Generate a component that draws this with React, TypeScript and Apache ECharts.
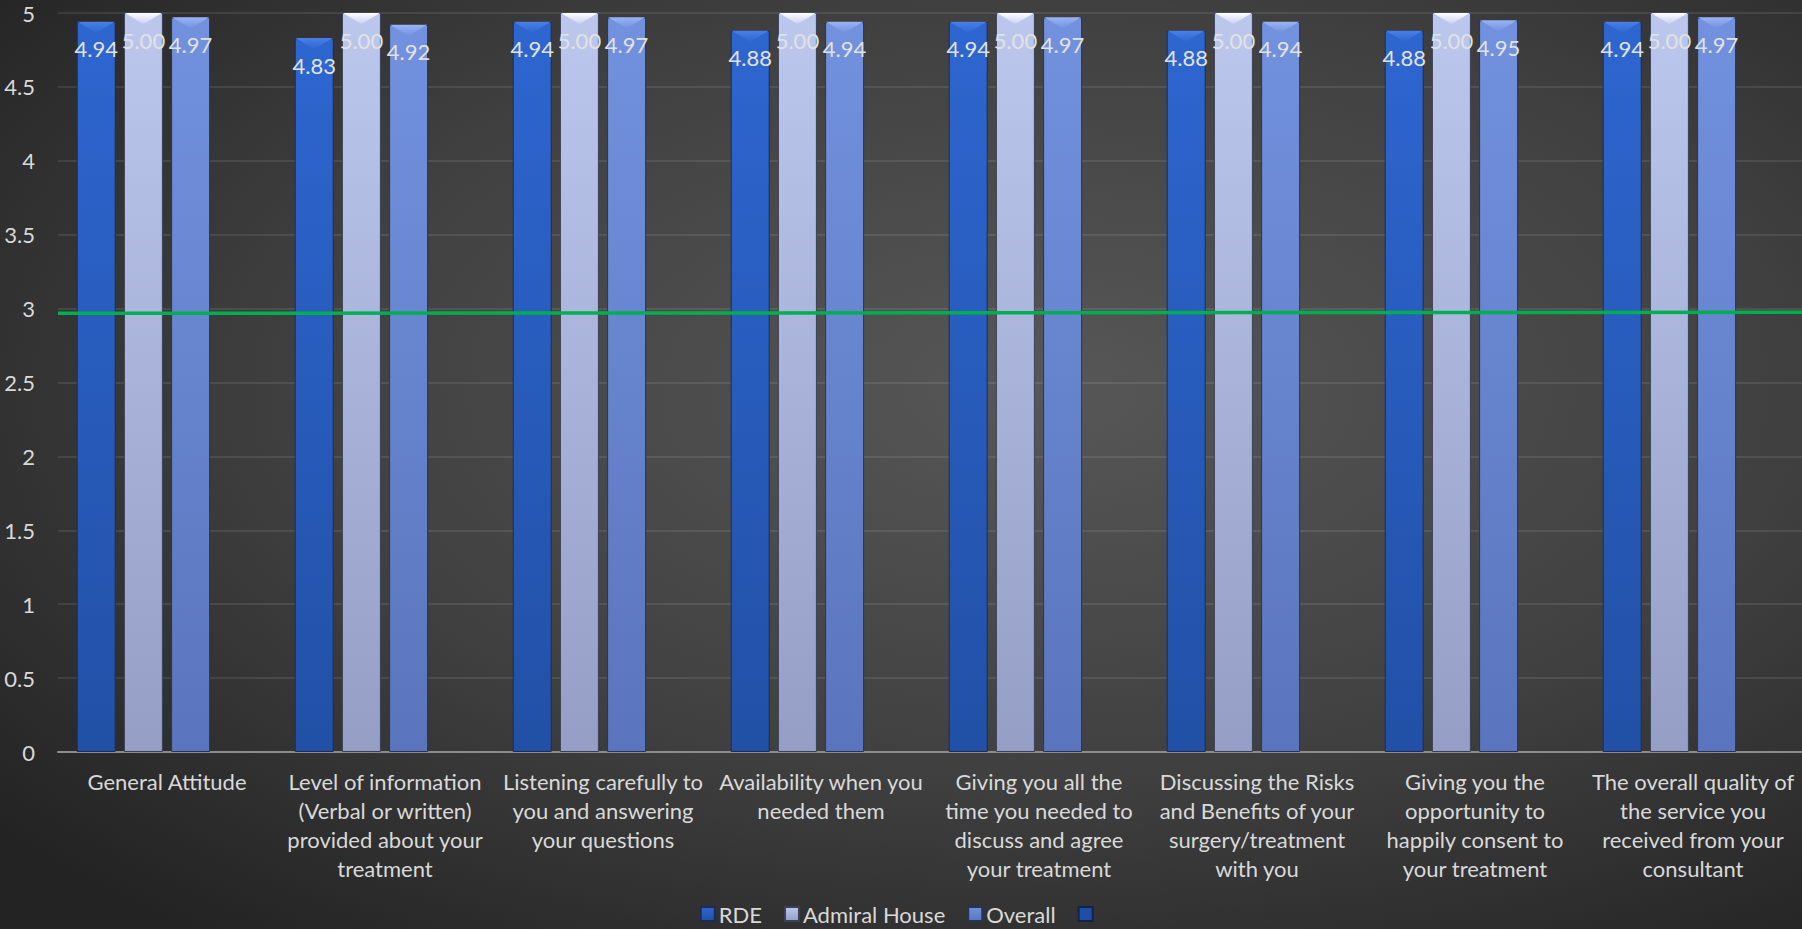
import React, { useEffect, useRef } from "react";
import * as echarts from "echarts";

const categories: string[] = [
  "General Attitude",
  "Level of information\n(Verbal or written)\nprovided about your\ntreatment",
  "Listening carefully to\nyou and answering\nyour questions",
  "Availability when you\nneeded them",
  "Giving you all the\ntime you needed to\ndiscuss and agree\nyour treatment",
  "Discussing the Risks\nand Benefits of your\nsurgery/treatment\nwith you",
  "Giving you the\nopportunity to\nhappily consent to\nyour treatment",
  "The overall quality of\nthe service you\nreceived from your\nconsultant",
];

const rdeValues: number[] = [4.94, 4.83, 4.94, 4.88, 4.94, 4.88, 4.88, 4.94];
const admiralValues: number[] = [5.0, 5.0, 5.0, 5.0, 5.0, 5.0, 5.0, 5.0];
const overallValues: number[] = [4.97, 4.92, 4.97, 4.94, 4.97, 4.94, 4.95, 4.97];
const blankValues: (number | null)[] = [null, null, null, null, null, null, null, null];
// green reference line: [position along width (0..1), value]
const targetLine: [number, number][] = [
  [0, 2.968],
  [1, 2.975],
];

const seriesNames: string[] = ["RDE", "Admiral House", "Overall", " "];

const FONT = "Lato, 'Open Sans', sans-serif";
const TEXT = "#d9d9d9";
const FS = 22;

function vGrad(top: string, bottom: string) {
  return new echarts.graphic.LinearGradient(0, 0, 0, 1, [
    { offset: 0, color: top },
    { offset: 1, color: bottom },
  ]);
}

export default function App() {
  const ref = useRef<HTMLDivElement>(null);

  useEffect(() => {
    document.body.style.margin = "0";
    if (!ref.current) return;
    const chart = echarts.init(ref.current, undefined, { renderer: "svg" });

    const labelCfg = {
      show: true,
      position: "insideTop",
      distance: 16,
      color: "#e2e2e2",
      fontSize: FS,
      fontFamily: FONT,
      formatter: (p: any) => (p.value == null ? "" : Number(p.value).toFixed(2)),
    };

    const barBase = {
      type: "bar",
      barWidth: 39,
      barGap: "21%",
      label: labelCfg,
    };

    const bevel = (data: number[], offsetX: number, top: string, bottom: string) => ({
      type: "pictorialBar",
      data,
      symbol: "path://M0,0L20,0L10,6Z",
      symbolSize: [37, 11],
      symbolPosition: "end",
      symbolOffset: [offsetX, 0],
      symbolRepeat: false,
      silent: true,
      z: 3,
      itemStyle: { color: vGrad(top, bottom) },
      label: { show: false },
    });

    chart.setOption({
      animation: false,
      backgroundColor: {
        type: "radial",
        x: 0.58,
        y: 0.42,
        r: 0.75,
        colorStops: [
          { offset: 0, color: "#575757" },
          { offset: 0.55, color: "#404040" },
          { offset: 1, color: "#232323" },
        ],
      },
      textStyle: { fontFamily: FONT },
      grid: { left: 58, right: -2, top: 13, bottom: 177, containLabel: false },
      legend: {
        data: seriesNames,
        top: 903,
        padding: 0,
        left: "center",
        itemWidth: 14,
        itemHeight: 14,
        itemGap: 22,
        icon: "rect",
        textStyle: { color: TEXT, fontSize: FS, fontFamily: FONT, padding: [0, 0, 0, -1] },
      },
      xAxis: [
        {
          type: "category",
          data: categories,
          axisTick: { show: false },
          axisLine: { lineStyle: { color: "#8c8c8c", width: 2 } },
          axisLabel: {
            interval: 0,
            color: TEXT,
            fontSize: FS,
            lineHeight: 29,
            fontFamily: FONT,
            margin: 15,
            align: "center",
          },
        },
        {
          type: "value",
          min: 0,
          max: 1,
          show: false,
        },
      ],
      yAxis: {
        type: "value",
        min: 0,
        max: 5,
        interval: 0.5,
        axisLine: { show: false },
        axisTick: { show: false },
        axisLabel: { color: TEXT, fontSize: FS, fontFamily: FONT, margin: 23 },
        splitLine: { lineStyle: { color: "rgba(255,255,255,0.09)", width: 2 } },
      },
      series: [
        {
          ...barBase,
          name: seriesNames[0],
          data: rdeValues,
          itemStyle: { color: vGrad("#2e66d0", "#2150a6"), borderColor: "#1b2d55", borderWidth: 1 },
        },
        {
          ...barBase,
          name: seriesNames[1],
          data: admiralValues,
          itemStyle: { color: vGrad("#bcc7ee", "#959fc6"), borderColor: "#3a4058", borderWidth: 1 },
        },
        {
          ...barBase,
          name: seriesNames[2],
          data: overallValues,
          itemStyle: { color: vGrad("#7291de", "#5a75bd"), borderColor: "#27345a", borderWidth: 1 },
        },
        {
          ...barBase,
          name: seriesNames[3],
          data: blankValues,
          itemStyle: { color: "#1f4ea6", borderColor: "#12224a", borderWidth: 1 },
        },
        bevel(rdeValues, -70.8, "#4a80e6", "#2e66d0"),
        bevel(admiralValues, -23.6, "#ffffff", "#c6d0f2"),
        bevel(overallValues, 23.6, "#9ab4f4", "#7291de"),
        {
          type: "line",
          name: "target",
          xAxisIndex: 1,
          data: targetLine,
          symbol: "none",
          silent: true,
          lineStyle: { color: "#00b050", width: 3.5 },
          z: 5,
        },
      ],
    });

    return () => chart.dispose();
  }, []);

  return <div ref={ref} style={{ width: 1802, height: 929 }} />;
}
